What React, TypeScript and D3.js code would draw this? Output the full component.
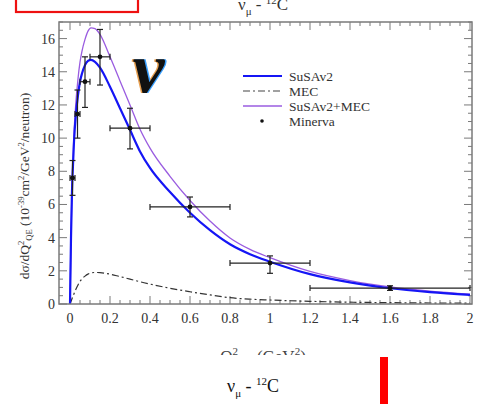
import React from "react";
import * as d3 from "d3";

// Model curves (Q^2 grid in GeV^2)
const gridQ2 = [0, 0.005, 0.01, 0.0125, 0.02, 0.03, 0.04, 0.05, 0.06, 0.075, 0.09, 0.105, 0.125, 0.15, 0.2, 0.25, 0.3, 0.35, 0.4, 0.5, 0.6, 0.7, 0.8, 0.9, 1.0, 1.2, 1.4, 1.6, 1.8, 2.0];
const susav2 = [0, 4.0, 6.8, 7.7, 9.8, 11.5, 12.6, 13.4, 13.9, 14.4, 14.65, 14.72, 14.6, 14.25, 13.1, 11.8, 10.5, 9.2, 8.2, 6.75, 5.5, 4.45, 3.6, 3.0, 2.55, 1.8, 1.3, 0.95, 0.72, 0.55];
const mec = [0, 0.15, 0.32, 0.4, 0.62, 0.9, 1.15, 1.36, 1.52, 1.68, 1.8, 1.87, 1.9, 1.89, 1.8, 1.65, 1.5, 1.34, 1.2, 0.95, 0.74, 0.55, 0.38, 0.29, 0.24, 0.16, 0.11, 0.08, 0.06, 0.05];
const susav2Mec = [0, 4.12, 7.05, 8.02, 10.3, 12.25, 13.58, 14.58, 15.25, 15.95, 16.45, 16.65, 16.6, 16.25, 14.9, 13.45, 12.0, 10.54, 9.4, 7.7, 6.24, 5.0, 3.98, 3.29, 2.79, 1.96, 1.41, 1.03, 0.78, 0.6];

// Minerva data
const minQ2 = [0.0125, 0.0375, 0.075, 0.15, 0.3, 0.6, 1.0, 1.6];
const minVal = [7.6, 11.45, 13.4, 14.9, 10.6, 5.85, 2.47, 0.96];
const minErrLo = [6.55, 10.0, 11.85, 13.2, 9.35, 5.25, 1.85, 0.82];
const minErrHi = [8.65, 12.9, 14.9, 16.55, 11.8, 6.45, 2.9, 1.1];
const minBinLo = [0, 0.025, 0.05, 0.1, 0.2, 0.4, 0.8, 1.2];
const minBinHi = [0.025, 0.05, 0.1, 0.2, 0.4, 0.8, 1.2, 2.0];

const xTickLabels = ["0", "0.2", "0.4", "0.6", "0.8", "1", "1.2", "1.4", "1.6", "1.8", "2"];
const yTickLabels = ["0", "2", "4", "6", "8", "10", "12", "14", "16"];

const legendNames = ["SuSAv2", "MEC", "SuSAv2+MEC", "Minerva"];

const W = 481, H = 404;
const L = 59, R = 472, T = 22, B = 304;

export default function App() {
  const x = d3.scaleLinear().domain([-0.055, 2.01]).range([L, R]);
  const y = d3.scaleLinear().domain([0, 17]).range([B, T]);
  const serif = "'Liberation Serif', 'Times New Roman', serif";
  const axisCol = "#7a7a7a";

  const line = (vals: number[]) =>
    d3.line<number>()
      .x((_, i) => x(gridQ2[i]))
      .y((v) => y(v))
      .curve(d3.curveMonotoneX)(vals) || "";

  const xMinor = d3.range(0, 2.0001, 0.05);
  const xMajor = xTickLabels.map((t) => +t);
  const yMinor = d3.range(0, 17.0001, 0.5);
  const yMajor = yTickLabels.map((t) => +t);

  const legendX = 243, legendY = [76, 91, 106, 121];

  return (
    <svg width={W} height={H} style={{ position: "absolute", left: 0, top: 0, background: "#fff" }} fontFamily={serif}>
      <defs>
        <clipPath id="plotclip">
          <rect x={L} y={T} width={R - L} height={B - T} />
        </clipPath>
      </defs>
      <rect x={0} y={0} width={W} height={H} fill="#fff" />

      {/* top cut-off title */}
      <text x={238} y={10} fontSize={17} fill="#333">
        ν<tspan fontSize={11} dy={5}>μ</tspan>
        <tspan dy={-5}> - </tspan>
        <tspan fontSize={11} dy={-6}>12</tspan>
        <tspan dy={6}>C</tspan>
      </text>
      {/* red rectangle top-left */}
      <rect x={16} y={-10} width={122} height={22} fill="none" stroke="#ee1111" strokeWidth={2.2} />

      {/* ticks */}
      <g stroke={axisCol} strokeWidth={1}>
        {xMinor.map((v, i) => {
          const major = xMajor.some((m) => Math.abs(m - v) < 1e-6);
          const len = major ? 8 : 4;
          return (
            <g key={"xt" + i}>
              <line x1={x(v)} x2={x(v)} y1={B} y2={B - len} />
              <line x1={x(v)} x2={x(v)} y1={T} y2={T + len} />
            </g>
          );
        })}
        {yMinor.map((v, i) => {
          const major = yMajor.some((m) => Math.abs(m - v) < 1e-6);
          const len = major ? 8 : 4;
          return (
            <g key={"yt" + i}>
              <line x1={L} x2={L + len} y1={y(v)} y2={y(v)} />
              <line x1={R} x2={R - len} y1={y(v)} y2={y(v)} />
            </g>
          );
        })}
      </g>

      {/* tick labels */}
      {xTickLabels.map((t, i) => (
        <text key={"xl" + i} x={x(+t)} y={323} fontSize={14} textAnchor="middle" fill="#333">{t}</text>
      ))}
      {yTickLabels.map((t, i) => (
        <text key={"yl" + i} x={55} y={y(+t) + 5} fontSize={14} textAnchor="end" fill="#333">{t}</text>
      ))}

      {/* y axis label */}
      <text transform={`translate(29,${186}) rotate(-90)`} fontSize={13.5} textAnchor="middle" fill="#333">
        dσ/dQ<tspan fontSize={8.5} dy={-5}>2</tspan>
        <tspan fontSize={8.5} dy={8}>QE</tspan>
        <tspan dy={-3}> (10</tspan>
        <tspan fontSize={8.5} dy={-5}>-39</tspan>
        <tspan dy={5}>cm</tspan>
        <tspan fontSize={8.5} dy={-5}>2</tspan>
        <tspan dy={5}>/GeV</tspan>
        <tspan fontSize={8.5} dy={-5}>2</tspan>
        <tspan dy={5}>/neutron)</tspan>
      </text>

      {/* curves */}
      <g clipPath="url(#plotclip)" fill="none">
        <path d={line(mec)} stroke="#333" strokeWidth={1.2} strokeDasharray="7,3,2,3" />
        <path d={line(susav2Mec)} stroke="#9a5ce0" strokeWidth={1.3} />
        <path d={line(susav2)} stroke="#1515f5" strokeWidth={2.2} />
      </g>

      {/* data */}
      <g stroke="#222" strokeWidth={1.2} clipPath="url(#plotclip)">
        {minQ2.map((q, i) => (
          <g key={"d" + i}>
            <line x1={x(q)} x2={x(q)} y1={y(minErrLo[i])} y2={y(minErrHi[i])} />
            <line x1={x(q) - 3} x2={x(q) + 3} y1={y(minErrLo[i])} y2={y(minErrLo[i])} />
            <line x1={x(q) - 3} x2={x(q) + 3} y1={y(minErrHi[i])} y2={y(minErrHi[i])} />
            <line x1={x(minBinLo[i])} x2={x(minBinHi[i])} y1={y(minVal[i])} y2={y(minVal[i])} />
            <line x1={x(minBinLo[i])} x2={x(minBinLo[i])} y1={y(minVal[i]) - 3} y2={y(minVal[i]) + 3} />
            <line x1={x(minBinHi[i])} x2={x(minBinHi[i])} y1={y(minVal[i]) - 3} y2={y(minVal[i]) + 3} />
            <circle cx={x(q)} cy={y(minVal[i])} r={2.4} fill="#111" stroke="none" />
          </g>
        ))}
      </g>

      {/* frame */}
      <rect x={L} y={T} width={R - L} height={B - T} fill="none" stroke={axisCol} strokeWidth={1.5} />

      {/* big nu */}
      <g fontSize={72} fontWeight="bold" fontStyle="italic" fontFamily={serif}>
        <text x={131} y={92} fill="#e8a050">ν</text>
        <text x={134} y={92} fill="#3aa0ff">ν</text>
        <text x={132.5} y={92} fill="#111">ν</text>
      </g>

      {/* legend */}
      <line x1={legendX} x2={legendX + 39} y1={legendY[0]} y2={legendY[0]} stroke="#1515f5" strokeWidth={2} />
      <line x1={legendX} x2={legendX + 39} y1={legendY[1]} y2={legendY[1]} stroke="#444" strokeWidth={1.2} strokeDasharray="7,3,2,3" />
      <line x1={legendX} x2={legendX + 39} y1={legendY[2]} y2={legendY[2]} stroke="#9a5ce0" strokeWidth={1.5} />
      <circle cx={262} cy={legendY[3]} r={1.8} fill="#111" />
      {legendNames.map((n, i) => (
        <text key={"lg" + i} x={289} y={legendY[i] + 4.5} fontSize={13.5} fill="#333">{n}</text>
      ))}

      {/* x axis label, partially covered */}
      <text x={263} y={362} fontSize={17} textAnchor="middle" fill="#444">
        Q<tspan fontSize={11} dy={-7}>2</tspan>
        <tspan fontSize={11} dy={11}>QE</tspan>
        <tspan dy={-4}> (GeV</tspan>
        <tspan fontSize={11} dy={-7}>2</tspan>
        <tspan dy={7}>)</tspan>
      </text>
      <rect x={0} y={355} width={W} height={H - 355} fill="#fff" />

      {/* bottom caption */}
      <text x={227} y={392} fontSize={18} fill="#111">
        ν<tspan fontSize={11} dy={5}>μ</tspan>
        <tspan dy={-5}> - </tspan>
        <tspan fontSize={11} dy={-7}>12</tspan>
        <tspan dy={7}>C</tspan>
      </text>
      <rect x={380} y={357} width={8} height={H - 357} fill="#ff0000" />
    </svg>
  );
}
